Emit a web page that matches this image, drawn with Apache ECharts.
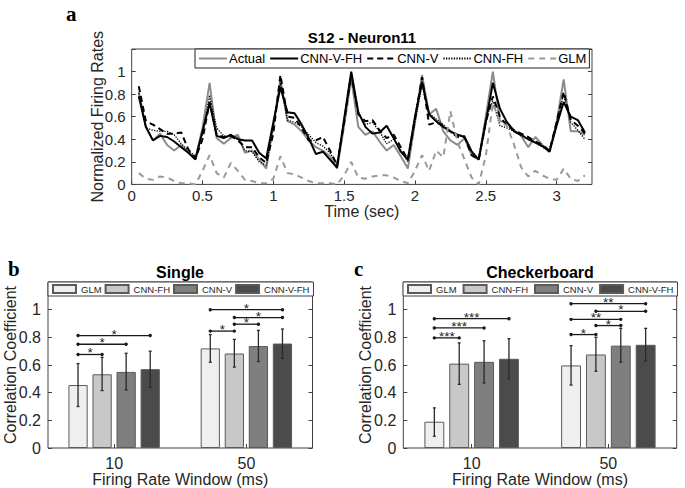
<!DOCTYPE html>
<html><head><meta charset="utf-8">
<script src="https://cdn.jsdelivr.net/npm/echarts@6/dist/echarts.min.js"></script>
<style>html,body{margin:0;padding:0;background:#fff}#c{width:685px;height:488px}</style>
</head><body><div id="c"></div>
<script>
// ---------- Panel a data ----------
const timeSec = [0.05,0.10,0.15,0.20,0.25,0.30,0.35,0.40,0.45,0.50,
 0.55,0.60,0.65,0.70,0.75,0.80,0.85,0.90,0.95,1.00,
 1.05,1.10,1.15,1.20,1.25,1.30,1.35,1.40,1.45,1.50,
 1.55,1.60,1.65,1.70,1.75,1.80,1.85,1.90,1.95,2.00,
 2.05,2.10,2.15,2.20,2.25,2.30,2.35,2.40,2.45,2.50,
 2.55,2.60,2.65,2.70,2.75,2.80,2.85,2.90,2.95,3.00,
 3.05,3.10,3.15,3.20];
const actual = [0.82,0.51,0.39,0.45,0.35,0.30,0.35,0.28,0.23,0.50,
 0.90,0.41,0.36,0.41,0.44,0.28,0.30,0.22,0.14,0.52,
 0.93,0.56,0.53,0.47,0.39,0.33,0.30,0.25,0.14,0.52,
 0.94,0.51,0.44,0.47,0.38,0.30,0.35,0.25,0.14,0.55,
 0.97,0.62,0.67,0.47,0.39,0.35,0.41,0.26,0.22,0.60,
 1.00,0.56,0.55,0.48,0.43,0.33,0.42,0.35,0.29,0.55,
 0.93,0.47,0.47,0.44];
const cnnVFH = [0.78,0.51,0.39,0.43,0.42,0.38,0.33,0.28,0.22,0.47,
 0.72,0.43,0.41,0.44,0.40,0.39,0.39,0.28,0.23,0.55,
 0.86,0.64,0.63,0.53,0.41,0.27,0.29,0.22,0.15,0.58,
 1.00,0.64,0.51,0.45,0.46,0.52,0.41,0.29,0.22,0.60,
 0.91,0.62,0.56,0.51,0.47,0.44,0.42,0.29,0.22,0.55,
 0.90,0.67,0.55,0.47,0.44,0.40,0.37,0.34,0.29,0.52,
 0.73,0.60,0.57,0.46];
const cnnV = [0.87,0.56,0.53,0.49,0.45,0.45,0.46,0.31,0.23,0.40,
 0.73,0.44,0.42,0.43,0.39,0.33,0.33,0.24,0.19,0.45,
 0.97,0.60,0.59,0.50,0.39,0.39,0.42,0.30,0.17,0.55,
 0.98,0.62,0.56,0.57,0.48,0.41,0.44,0.33,0.22,0.58,
 0.95,0.53,0.55,0.52,0.47,0.42,0.42,0.26,0.22,0.55,
 0.78,0.60,0.52,0.48,0.45,0.42,0.38,0.35,0.30,0.55,
 0.82,0.57,0.52,0.45];
const cnnFH = [0.81,0.50,0.48,0.47,0.47,0.44,0.36,0.30,0.25,0.45,
 0.79,0.50,0.43,0.42,0.41,0.30,0.29,0.20,0.17,0.52,
 0.90,0.57,0.55,0.51,0.44,0.37,0.34,0.28,0.18,0.58,
 0.95,0.63,0.53,0.55,0.47,0.36,0.40,0.30,0.20,0.55,
 0.88,0.63,0.58,0.53,0.46,0.44,0.43,0.30,0.22,0.58,
 0.74,0.52,0.50,0.47,0.43,0.40,0.37,0.33,0.30,0.55,
 0.80,0.55,0.48,0.40];
const glm = [0.10,0.05,0.04,0.07,0.06,0.03,0.01,0.01,0.00,0.12,
 0.26,0.10,0.06,0.19,0.12,0.04,0.03,0.01,0.01,0.05,
 0.25,0.10,0.09,0.06,0.03,0.01,0.01,0.01,0.00,0.08,
 0.20,0.06,0.05,0.07,0.08,0.08,0.06,0.03,0.01,0.12,
 0.26,0.12,0.30,0.24,0.65,0.38,0.22,0.06,0.00,0.25,
 0.72,0.55,0.52,0.35,0.15,0.07,0.12,0.08,0.05,0.04,
 0.14,0.05,0.03,0.08];

// ---------- Panels b / c data ----------
const windows = ['10', '50'];
const models = ['GLM', 'CNN-FH', 'CNN-V', 'CNN-V-FH'];
const barColors = ['#efefef', '#c8c8c8', '#7f7f7f', '#4b4b4b'];
// Single
const singleGLM = [0.455, 0.72];
const singleFH = [0.533, 0.683];
const singleV = [0.55, 0.737];
const singleVFH = [0.57, 0.755];
const singleErrLow = [[0.30, 0.62], [0.415, 0.585], [0.42, 0.625], [0.44, 0.648]];
const singleErrHigh = [[0.61, 0.82], [0.655, 0.785], [0.685, 0.85], [0.70, 0.86]];
// [window, fromModel, toModel, height]
const singleSig = [[0,0,1,0.676],[0,0,2,0.75],[0,0,3,0.813],[1,0,1,0.845],[1,1,2,0.895],[1,1,3,0.943],[1,0,3,1.0]];
const singleSigLabels = ['*','*','*','*','*','*','*'];
// Checkerboard
const checkGLM = [0.19, 0.597];
const checkFH = [0.61, 0.676];
const checkV = [0.623, 0.74];
const checkVFH = [0.645, 0.746];
const checkErrLow = [[0.085, 0.455], [0.46, 0.555], [0.47, 0.62], [0.50, 0.63]];
const checkErrHigh = [[0.29, 0.74], [0.76, 0.80], [0.775, 0.865], [0.79, 0.865]];
const checkSig = [[0,0,1,0.796],[0,0,2,0.868],[0,0,3,0.935],[1,0,1,0.82],[1,1,2,0.885],[1,0,2,0.93],[1,1,3,0.988],[1,0,3,1.043]];
const checkSigLabels = ['***','***','***','*','*','**','*','**'];

// ---------- build ----------
const FONT = '"Liberation Sans", Arial, Helvetica, sans-serif';
const SERIF = '"Liberation Serif", "Times New Roman", serif';
const AX = '#404040';
const TXT = '#262626';
const BAR_W = 0.1455, PITCH = 0.1819;

const chart = echarts.init(document.getElementById('c'), null, {renderer: 'svg'});

function zip(xs, ys) { return xs.map((x, i) => [x, ys[i]]); }

function errData(lows, highs) {
  const d = [];
  lows.forEach((lw, m) => lw.forEach((lo, c) => d.push([c, lo, highs[m][c], m])));
  return d;
}
function renderErr(params, api) {
  const c = api.value(0), m = api.value(3);
  const catW = api.size([1, 0])[0];
  const p0 = api.coord([c, api.value(1)]);
  const p1 = api.coord([c, api.value(2)]);
  const x = p0[0] + (m - 1.5) * PITCH * catW;
  const st = {stroke: '#2a2a2a', lineWidth: 1.3};
  return {type: 'group', children: [
    {type: 'line', shape: {x1: x, y1: p0[1], x2: x, y2: p1[1]}, style: st},
    {type: 'line', shape: {x1: x - 1.5, y1: p0[1], x2: x + 1.5, y2: p0[1]}, style: st},
    {type: 'line', shape: {x1: x - 1.5, y1: p1[1], x2: x + 1.5, y2: p1[1]}, style: st}
  ]};
}
function makeSigRender(labels) {
  return function (params, api) {
    const c = api.value(0), a = api.value(1), b = api.value(2), h = api.value(3);
    const catW = api.size([1, 0])[0];
    const p = api.coord([c, h]);
    const xa = p[0] + (a - 1.5) * PITCH * catW;
    const xb = p[0] + (b - 1.5) * PITCH * catW;
    const st = {stroke: '#1a1a1a', lineWidth: 1.3};
    return {type: 'group', children: [
      {type: 'line', shape: {x1: xa, y1: p[1], x2: xb, y2: p[1]}, style: st},
      {type: 'circle', shape: {cx: xa, cy: p[1], r: 1.7}, style: {fill: '#1a1a1a'}},
      {type: 'circle', shape: {cx: xb, cy: p[1], r: 1.7}, style: {fill: '#1a1a1a'}},
      {type: 'text', style: {text: labels[params.dataIndex], x: (xa + xb) / 2, y: p[1] - 1.5,
        align: 'center', verticalAlign: 'middle', fontSize: 13.5, lineHeight: 7,
        fontFamily: FONT, fill: '#222', stroke: 'transparent', lineWidth: 0}}
    ]};
  };
}

const yLab = v => (v > 1.01 ? '' : String(Math.round(v * 10) / 10));
const xLab = v => (Math.abs(v * 2 - Math.round(v * 2)) < 1e-6 ? String(v) : '');

function barY(gi, name) {
  return [
    {gridIndex: gi, type: 'value', min: 0, max: 1.2, interval: 0.2,
      name: name, nameLocation: 'middle', nameGap: 30, nameMoveOverlap: false,
      nameTextStyle: {fontSize: 16, fontFamily: FONT, color: TXT},
      axisLine: {show: false}, splitLine: {show: false},
      axisTick: {show: true, inside: true, length: 4, lineStyle: {color: AX}},
      axisLabel: {formatter: yLab, fontSize: 16, fontFamily: FONT, color: TXT, margin: 7}},
    {gridIndex: gi, type: 'value', position: 'right', min: 0, max: 1.2, interval: 0.2,
      axisLine: {show: false}, splitLine: {show: false}, axisLabel: {show: false},
      axisTick: {show: true, inside: true, length: 4, lineStyle: {color: AX}}}
  ];
}
function barX(gi) {
  return {gridIndex: gi, type: 'category', data: windows,
    name: 'Firing Rate Window (ms)', nameLocation: 'middle', nameGap: 23, nameMoveOverlap: false,
    nameTextStyle: {fontSize: 16, fontFamily: FONT, color: TXT, verticalAlign: 'top'},
    axisLine: {show: false},
    axisTick: {show: true, inside: true, alignWithLabel: true, length: 4, lineStyle: {color: AX}},
    axisLabel: {fontSize: 16, fontFamily: FONT, color: TXT, margin: 7}};
}
function barSeries(xi, yi, tag, vals) {
  return vals.map((v, m) => ({
    name: models[m] + '#' + tag, type: 'bar', xAxisIndex: xi, yAxisIndex: yi,
    data: v, barWidth: (BAR_W * 100) + '%', barGap: '25%',
    itemStyle: {color: barColors[m], borderColor: '#5a5a5a', borderWidth: 1},
    z: 2
  }));
}
function barLegend(left, tag, gap) {
  return {left: left, top: 282, orient: 'horizontal', padding: [2, 4], itemGap: gap,
    itemWidth: 23, itemHeight: 8, icon: 'rect',
    borderColor: AX, borderWidth: 1, backgroundColor: '#fff', borderRadius: 0,
    data: models.map(m => m + '#' + tag), selectedMode: false,
    formatter: n => n.split('#')[0],
    textStyle: {fontSize: 9.5, fontFamily: FONT, color: TXT}};
}
const titleStyle = size => ({fontSize: size, fontWeight: 'bold', fontFamily: FONT, color: '#000'});
const letterStyle = {fontSize: 21, fontWeight: 'bold', fontFamily: SERIF, color: '#000'};

const option = {
  animation: false,
  backgroundColor: '#fff',
  title: [
    {text: 'S12 - Neuron11', left: 362, top: 30, padding: 0, textAlign: 'center', textStyle: titleStyle(15)},
    {text: 'Single', left: 180, top: 264, padding: 0, textAlign: 'center', textStyle: titleStyle(16)},
    {text: 'Checkerboard', left: 540, top: 264, padding: 0, textAlign: 'center', textStyle: titleStyle(16)},
    {text: 'a', left: 66, top: 3, padding: 0, textStyle: letterStyle},
    {text: 'b', left: 8, top: 258, padding: 0, textStyle: letterStyle},
    {text: 'c', left: 354, top: 258, padding: 0, textStyle: letterStyle}
  ],
  legend: [
    {left: 195, top: 49, orient: 'horizontal', padding: [3, 3], itemGap: 4,
      itemWidth: 28, itemHeight: 12, borderColor: '#222', borderWidth: 1, backgroundColor: '#fff',
      itemStyle: {opacity: 0, color: 'rgba(0,0,0,0)', borderWidth: 0},
      data: ['Actual', 'CNN-V-FH', 'CNN-V', 'CNN-FH', 'GLM'], selectedMode: false,
      textStyle: {fontSize: 13, fontFamily: FONT, color: '#000', padding: [0, 0, 0, -3]}},
    barLegend(48, 'b', 3),
    barLegend(403, 'c', 6)
  ],
  grid: [
    {left: 131.7, right: 93, top: 49, bottom: 303.6, show: true, borderColor: AX, borderWidth: 1, backgroundColor: 'transparent'},
    {left: 48, right: 372.5, top: 282, bottom: 39.7, show: true, borderColor: AX, borderWidth: 1, backgroundColor: 'transparent'},
    {left: 403.3, right: 8.3, top: 282, bottom: 39.7, show: true, borderColor: AX, borderWidth: 1, backgroundColor: 'transparent'}
  ],
  xAxis: [
    {gridIndex: 0, type: 'value', min: 0, max: 3.25, interval: 0.5,
      name: 'Time (sec)', nameLocation: 'middle', nameGap: 19, nameMoveOverlap: false,
      nameTextStyle: {fontSize: 16, fontFamily: FONT, color: TXT, verticalAlign: 'top'},
      axisLine: {show: false}, splitLine: {show: false},
      axisTick: {show: true, inside: true, length: 4, lineStyle: {color: AX}},
      axisLabel: {formatter: xLab, fontSize: 15, fontFamily: FONT, color: TXT, margin: 4, showMaxLabel: false}},
    barX(1),
    barX(2)
  ],
  yAxis: [
    {gridIndex: 0, type: 'value', min: 0, max: 1.2, interval: 0.2,
      name: 'Normalized Firing Rates', nameLocation: 'middle', nameGap: 26, nameMoveOverlap: false,
      nameTextStyle: {fontSize: 16, fontFamily: FONT, color: TXT},
      axisLine: {show: false}, splitLine: {show: false},
      axisTick: {show: true, inside: true, length: 4, lineStyle: {color: AX}},
      axisLabel: {formatter: yLab, fontSize: 15, fontFamily: FONT, color: TXT, margin: 6}},
    {gridIndex: 0, type: 'value', position: 'right', min: 0, max: 1.2, interval: 0.2,
      axisLine: {show: false}, splitLine: {show: false}, axisLabel: {show: false},
      axisTick: {show: true, inside: true, length: 4, lineStyle: {color: AX}}},
    ...barY(1, 'Correlation Coefficient'),
    ...barY(2, 'Correlation Coefficient')
  ],
  series: [
    {name: 'Actual', type: 'line', xAxisIndex: 0, yAxisIndex: 0, data: zip(timeSec, actual),
      symbol: 'none', lineStyle: {color: '#8c8c8c', width: 2}, itemStyle: {color: '#8c8c8c'}},
    {name: 'CNN-V-FH', type: 'line', xAxisIndex: 0, yAxisIndex: 0, data: zip(timeSec, cnnVFH),
      symbol: 'none', lineStyle: {color: '#000', width: 2}, itemStyle: {color: '#000'}},
    {name: 'CNN-V', type: 'line', xAxisIndex: 0, yAxisIndex: 0, data: zip(timeSec, cnnV),
      symbol: 'none', lineStyle: {color: '#000', width: 2, type: [6, 4]}, itemStyle: {color: '#000'}},
    {name: 'CNN-FH', type: 'line', xAxisIndex: 0, yAxisIndex: 0, data: zip(timeSec, cnnFH),
      symbol: 'none', lineStyle: {color: '#000', width: 1.3, type: [1.3, 1.3]}, itemStyle: {color: '#000'}},
    {name: 'GLM', type: 'line', xAxisIndex: 0, yAxisIndex: 0, data: zip(timeSec, glm),
      symbol: 'none', lineStyle: {color: '#9a9a9a', width: 2, type: [6, 5]}, itemStyle: {color: '#9a9a9a'}},

    ...barSeries(1, 2, 'b', [singleGLM, singleFH, singleV, singleVFH]),
    {type: 'custom', xAxisIndex: 1, yAxisIndex: 2, data: errData(singleErrLow, singleErrHigh),
      encode: {x: 0, y: [1, 2]}, renderItem: renderErr, z: 5, silent: true},
    {type: 'custom', xAxisIndex: 1, yAxisIndex: 2, data: singleSig,
      encode: {x: 0, y: 3}, renderItem: makeSigRender(singleSigLabels), z: 5, silent: true},

    ...barSeries(2, 4, 'c', [checkGLM, checkFH, checkV, checkVFH]),
    {type: 'custom', xAxisIndex: 2, yAxisIndex: 4, data: errData(checkErrLow, checkErrHigh),
      encode: {x: 0, y: [1, 2]}, renderItem: renderErr, z: 5, silent: true},
    {type: 'custom', xAxisIndex: 2, yAxisIndex: 4, data: checkSig,
      encode: {x: 0, y: 3}, renderItem: makeSigRender(checkSigLabels), z: 5, silent: true}
  ]
};
chart.setOption(option);
</script>
</body></html>
